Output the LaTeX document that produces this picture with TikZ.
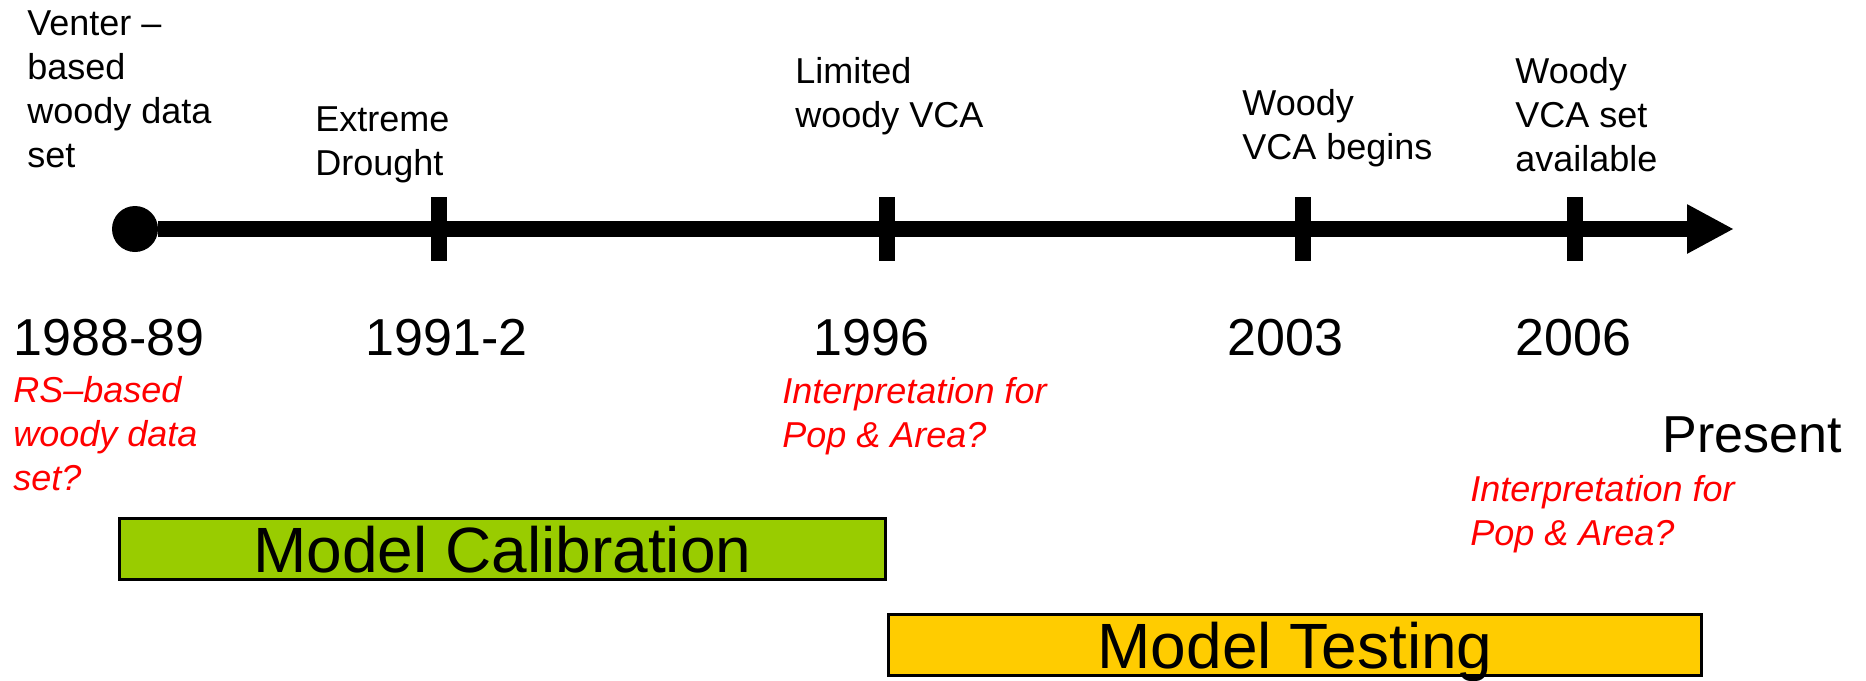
\documentclass[tikz,border=0pt]{standalone}
\usepackage{fontspec}
\setmainfont{Liberation Sans}
\usetikzlibrary{arrows.meta}
\usetikzlibrary{positioning}

\definecolor{calgreen}{HTML}{99CC00}
\definecolor{testyellow}{HTML}{FFCC00}

\tikzset{
  event/.style={anchor=base west, inner sep=0pt, align=left,
    font=\fontsize{18}{22}\selectfont},
  note/.style={event, text=red, font=\fontsize{18}{22}\selectfont\itshape},
  year/.style={anchor=base west, inner sep=0pt, font=\fontsize{26}{30}\selectfont},
  tick/.style={fill=black, inner sep=0pt, minimum width=8pt, minimum height=32pt},
  phase/.style={draw=black, line width=1.5pt, inner sep=0pt, minimum height=30.5pt,
    text depth=0pt, font=\fontsize{32}{36}\selectfont},
}

\begin{document}
\begin{tikzpicture}[x=0.5pt, y=-0.5pt]
    \useasboundingbox (0,0) rectangle (1866,680);

    \node (origin) [circle, fill=black, inner sep=0pt, minimum size=23pt] at (135,229) {};
    \coordinate (now) at (1734,229);
    \draw [line width=8pt, -{Triangle[length=23.5pt, width=23pt]}] (origin) -- (now);

    \node (t1991) [tick] at (439,229) {};
    \node (t1996) [tick] at (887,229) {};
    \node (t2003) [tick] at (1303,229) {};
    \node (t2006) [tick] at (1575,229) {};

    % multi-line labels sit on the baseline of their last line
    \node (venter) [event] at (27,167) {Venter –\\based\\woody data\\set};
    \node (drought) [event] at (315,175) {Extreme\\Drought};
    \node (limited) [event] at (795,127) {Limited\\woody VCA};
    \node (begins) [event] at (1242,159) {Woody\\VCA begins};
    \node (avail) [event] at (1515,171) {Woody\\VCA set\\available};

    \node (y1988) [year] at (13,355) {1988-89};
    \node (y1991) [year] at (365,355) {1991-2};
    \node (y1996) [year] at (813,355) {1996};
    \node (y2003) [year] at (1227,355) {2003};
    \node (y2006) [year] at (1515,355) {2006};
    \node (present) [year] at (1662,452) {Present};

    \node (rsnote) [note] at (13,490) {RS–based\\woody data\\set?};
    \node (popnote) [note] at (782,447) {Interpretation for\\Pop \& Area?};
    \node (popnote2) [note] at (1470,545) {Interpretation for\\Pop \& Area?};

    \node (calib) [phase, fill=calgreen, minimum width=383pt] at (502.5,549) {Model Calibration};
    \node (testing) [phase, fill=testyellow, minimum width=406.5pt] at (1295,645) {Model Testing};
  \end{tikzpicture}
\end{document}
